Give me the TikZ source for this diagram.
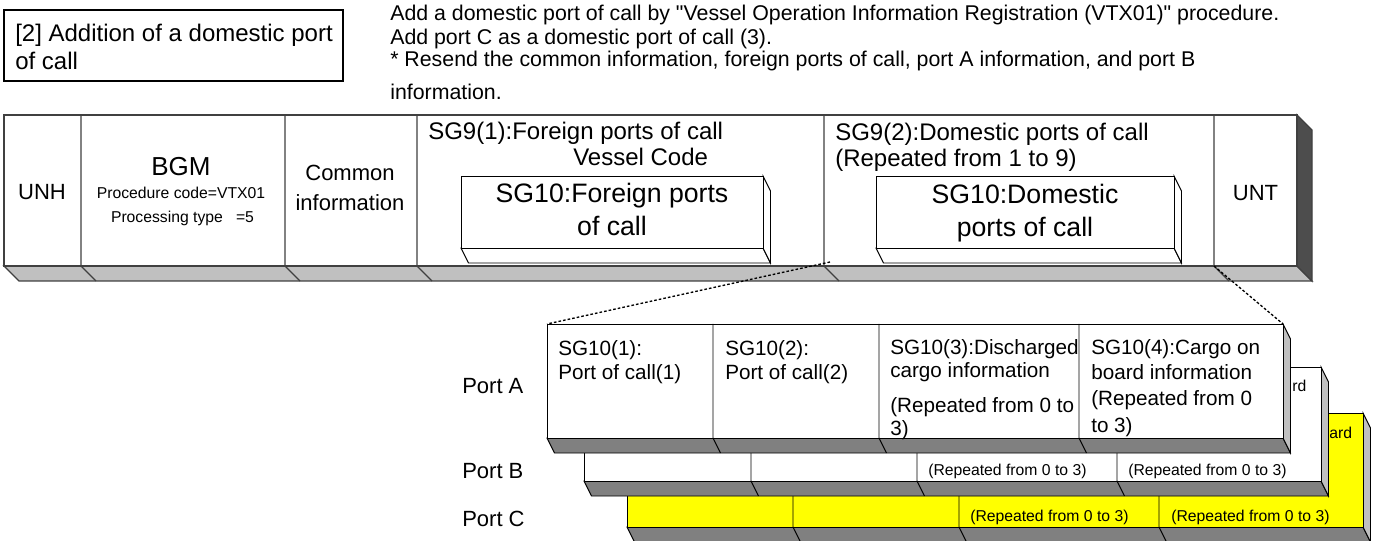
\documentclass[tikz,border=0pt]{standalone}
\usepackage{fontspec}
\setmainfont{Liberation Sans}[Ligatures=TeXOff]
\usepackage{xcolor}
\usepackage{tikz}

\definecolor{barline}{HTML}{404040}
\definecolor{barfloor}{HTML}{C0C0C0}
\definecolor{barwall}{HTML}{4D4D4D}
\definecolor{slabfloor}{HTML}{808080}
\definecolor{slabwall}{HTML}{C0C0C0}
\definecolor{portyellow}{HTML}{FFFF00}

\begin{document}
\begin{tikzpicture}[x=0.75pt, y=-0.75pt,
    barstroke/.style={draw=barline, line width=1pt},
    slabstroke/.style={draw=black, line width=0.7pt},
    txt/.style={inner sep=0pt, anchor=base west},
    ctxt/.style={inner sep=0pt, anchor=base},
    headfont/.style={font=\fontsize{18}{22}\selectfont},
    notefont/.style={font=\fontsize{16}{19}\selectfont},
    segfont/.style={font=\fontsize{16.5}{20}\selectfont},
    bgmfont/.style={font=\fontsize{19.5}{23}\selectfont},
    smallfont/.style={font=\fontsize{11.8}{14}\selectfont},
    groupfont/.style={font=\fontsize{18}{21}\selectfont},
    innerfont/.style={font=\fontsize{20}{24}\selectfont},
    cellfont/.style={font=\fontsize{15.5}{19}\selectfont},
    zoomline/.style={draw=black, line width=1pt, dash pattern=on 2pt off 1.5pt}]
    \useasboundingbox (0,0) rectangle (1381,541);

    % heading
    \draw[black, line width=1pt] (4,10) rectangle (343,81);
    \node[txt, headfont] (title) at (15,41.5) {[2] Addition of a domestic port};
    \node[txt, headfont] (titletail) at (15,70) {of call};
    \node[txt, notefont] (notea) at (390,21) {Add a domestic port of call by "Vessel Operation Information Registration (VTX01)" procedure.};
    \node[txt, notefont] (noteb) at (390,45) {Add port C as a domestic port of call (3).};
    \node[txt, notefont] (notec) at (390,67) {* Resend the common information, foreign ports of call, port A information, and port B};
    \node[txt, notefont] (noted) at (390,100) {information.};

    % port C
    \draw[slabstroke, fill=slabfloor] (627,527) -- (1363,527) -- (1370.5,542) -- (634.5,542) -- cycle;
    \draw[slabstroke, fill=slabwall] (1363,413) -- (1370.5,428) -- (1370.5,542) -- (1363,527) -- cycle;
    \draw[slabstroke, fill=portyellow] (627,413) rectangle (1363,527);
    \draw[slabstroke] (793,413) -- (793,527) -- (800.5,542);
    \draw[slabstroke] (959,413) -- (959,527) -- (966.5,542);
    \draw[slabstroke] (1159,413) -- (1159,527) -- (1166.5,542);
    \node[txt, smallfont] (cboard) at (1329,438) {ard};
    \node[txt, smallfont] (crepthree) at (970,521) {(Repeated from 0 to 3)};
    \node[txt, smallfont] (crepfour) at (1171,521) {(Repeated from 0 to 3)};

    % port B
    \draw[slabstroke, fill=slabfloor] (584,481) -- (1321,481) -- (1328.5,496) -- (591.5,496) -- cycle;
    \draw[slabstroke, fill=slabwall] (1321,367) -- (1328.5,382) -- (1328.5,496) -- (1321,481) -- cycle;
    \draw[slabstroke, fill=white] (584,367) rectangle (1321,481);
    \draw[slabstroke] (751,367) -- (751,481) -- (758.5,496);
    \draw[slabstroke] (917,367) -- (917,481) -- (924.5,496);
    \draw[slabstroke] (1117,367) -- (1117,481) -- (1124.5,496);
    \node[txt, smallfont] (bboard) at (1292,392) {rd};
    \node[txt, smallfont] (brepthree) at (928,475) {(Repeated from 0 to 3)};
    \node[txt, smallfont] (brepfour) at (1128,475) {(Repeated from 0 to 3)};

    % port A
    \draw[slabstroke, fill=slabfloor] (547,438) -- (1283,438) -- (1290.5,453) -- (554.5,453) -- cycle;
    \draw[slabstroke, fill=slabwall] (1283,324) -- (1290.5,339) -- (1290.5,453) -- (1283,438) -- cycle;
    \draw[slabstroke, fill=white] (547,324) rectangle (1283,438);
    \draw[slabstroke] (713,324) -- (713,438) -- (720.5,453);
    \draw[slabstroke] (879,324) -- (879,438) -- (886.5,453);
    \draw[slabstroke] (1079,324) -- (1079,438) -- (1086.5,453);
    \coordinate (portAnw) at (547,324);
    \coordinate (portAne) at (1283,324);
    \node[txt, cellfont] (aonea) at (558,356) {SG10(1):};
    \node[txt, cellfont] (aoneb) at (558,380) {Port of call(1)};
    \node[txt, cellfont] (atwoa) at (725,356) {SG10(2):};
    \node[txt, cellfont] (atwob) at (725,380) {Port of call(2)};
    \node[txt, cellfont] (athreea) at (890,355) {SG10(3):Discharged};
    \node[txt, cellfont] (athreeb) at (890,378) {cargo information};
    \node[txt, cellfont] (athreec) at (890,412) {(Repeated from 0 to};
    \node[txt, cellfont] (athreed) at (890,435) {3)};
    \node[txt, cellfont] (afoura) at (1091,355) {SG10(4):Cargo on};
    \node[txt, cellfont] (afourb) at (1091,380) {board information};
    \node[txt, cellfont] (afourc) at (1091,406) {(Repeated from 0};
    \node[txt, cellfont] (afourd) at (1091,432) {to 3)};

    \node[txt, segfont] (porta) at (462,393) {Port A};
    \node[txt, segfont] (portb) at (462,478) {Port B};
    \node[txt, segfont] (portc) at (462,526) {Port C};

    % message bar
    \draw[barstroke, fill=barfloor] (4,266) -- (1297,266) -- (1312,281) -- (19,281) -- cycle;
    \draw[barstroke, fill=barwall] (1297,115) -- (1312,130) -- (1312,281) -- (1297,266) -- cycle;
    \draw[barstroke, fill=white] (4,115) rectangle (1297,266);
    \draw[barstroke] (81,115) -- (81,266) -- (96,281);
    \draw[barstroke] (285,115) -- (285,266) -- (300,281);
    \draw[barstroke] (417,115) -- (417,266) -- (432,281);
    \draw[barstroke] (824,115) -- (824,266) -- (839,281);
    \draw[barstroke] (1214,115) -- (1214,266) -- (1229,281);
    \coordinate (domfrom) at (830,262);
    \coordinate (untfrom) at (1214,266);

    \draw[slabstroke, fill=white] (461,248) -- (763,248) -- (770.5,263) -- (468.5,263) -- cycle;
    \draw[slabstroke, fill=white] (763,176) -- (770.5,191) -- (770.5,263) -- (763,248) -- cycle;
    \draw[slabstroke, fill=white] (461,176) rectangle (763,248);
    \draw[slabstroke, fill=white] (876,248) -- (1174,248) -- (1181.5,263) -- (883.5,263) -- cycle;
    \draw[slabstroke, fill=white] (1174,176) -- (1181.5,191) -- (1181.5,263) -- (1174,248) -- cycle;
    \draw[slabstroke, fill=white] (876,176) rectangle (1174,248);

    \node[ctxt, segfont] (unh) at (42,200) {UNH};
    \node[ctxt, bgmfont] (bgm) at (181,176) {BGM};
    \node[ctxt, smallfont] (bgmcode) at (181,199) {Procedure code=VTX01};
    \node[ctxt, smallfont] (bgmtype) at (182.5,223) {Processing type~~~=5};
    \node[ctxt, segfont] (common) at (350,181) {Common};
    \node[ctxt, segfont] (commoninfo) at (350,211) {information};
    \node[txt, groupfont] (sgnineone) at (428,140) {SG9(1):Foreign ports of call};
    \node[txt, groupfont] (vesselcode) at (573,166) {Vessel Code};
    \node[ctxt, innerfont] (foreigna) at (612,203) {SG10:Foreign ports};
    \node[ctxt, innerfont] (foreignb) at (612,236) {of call};
    \node[txt, groupfont] (sgninetwo) at (835,141) {SG9(2):Domestic ports of call};
    \node[txt, groupfont] (sgninerep) at (835,167) {(Repeated from 1 to 9)};
    \node[ctxt, innerfont] (domestica) at (1025,204) {SG10:Domestic};
    \node[ctxt, innerfont] (domesticb) at (1025,237) {ports of call};
    \node[ctxt, segfont] (unt) at (1255.5,201) {UNT};

    \draw[zoomline] (domfrom) -- (portAnw);
    \draw[zoomline] (untfrom) -- (portAne);
\end{tikzpicture}
\end{document}
